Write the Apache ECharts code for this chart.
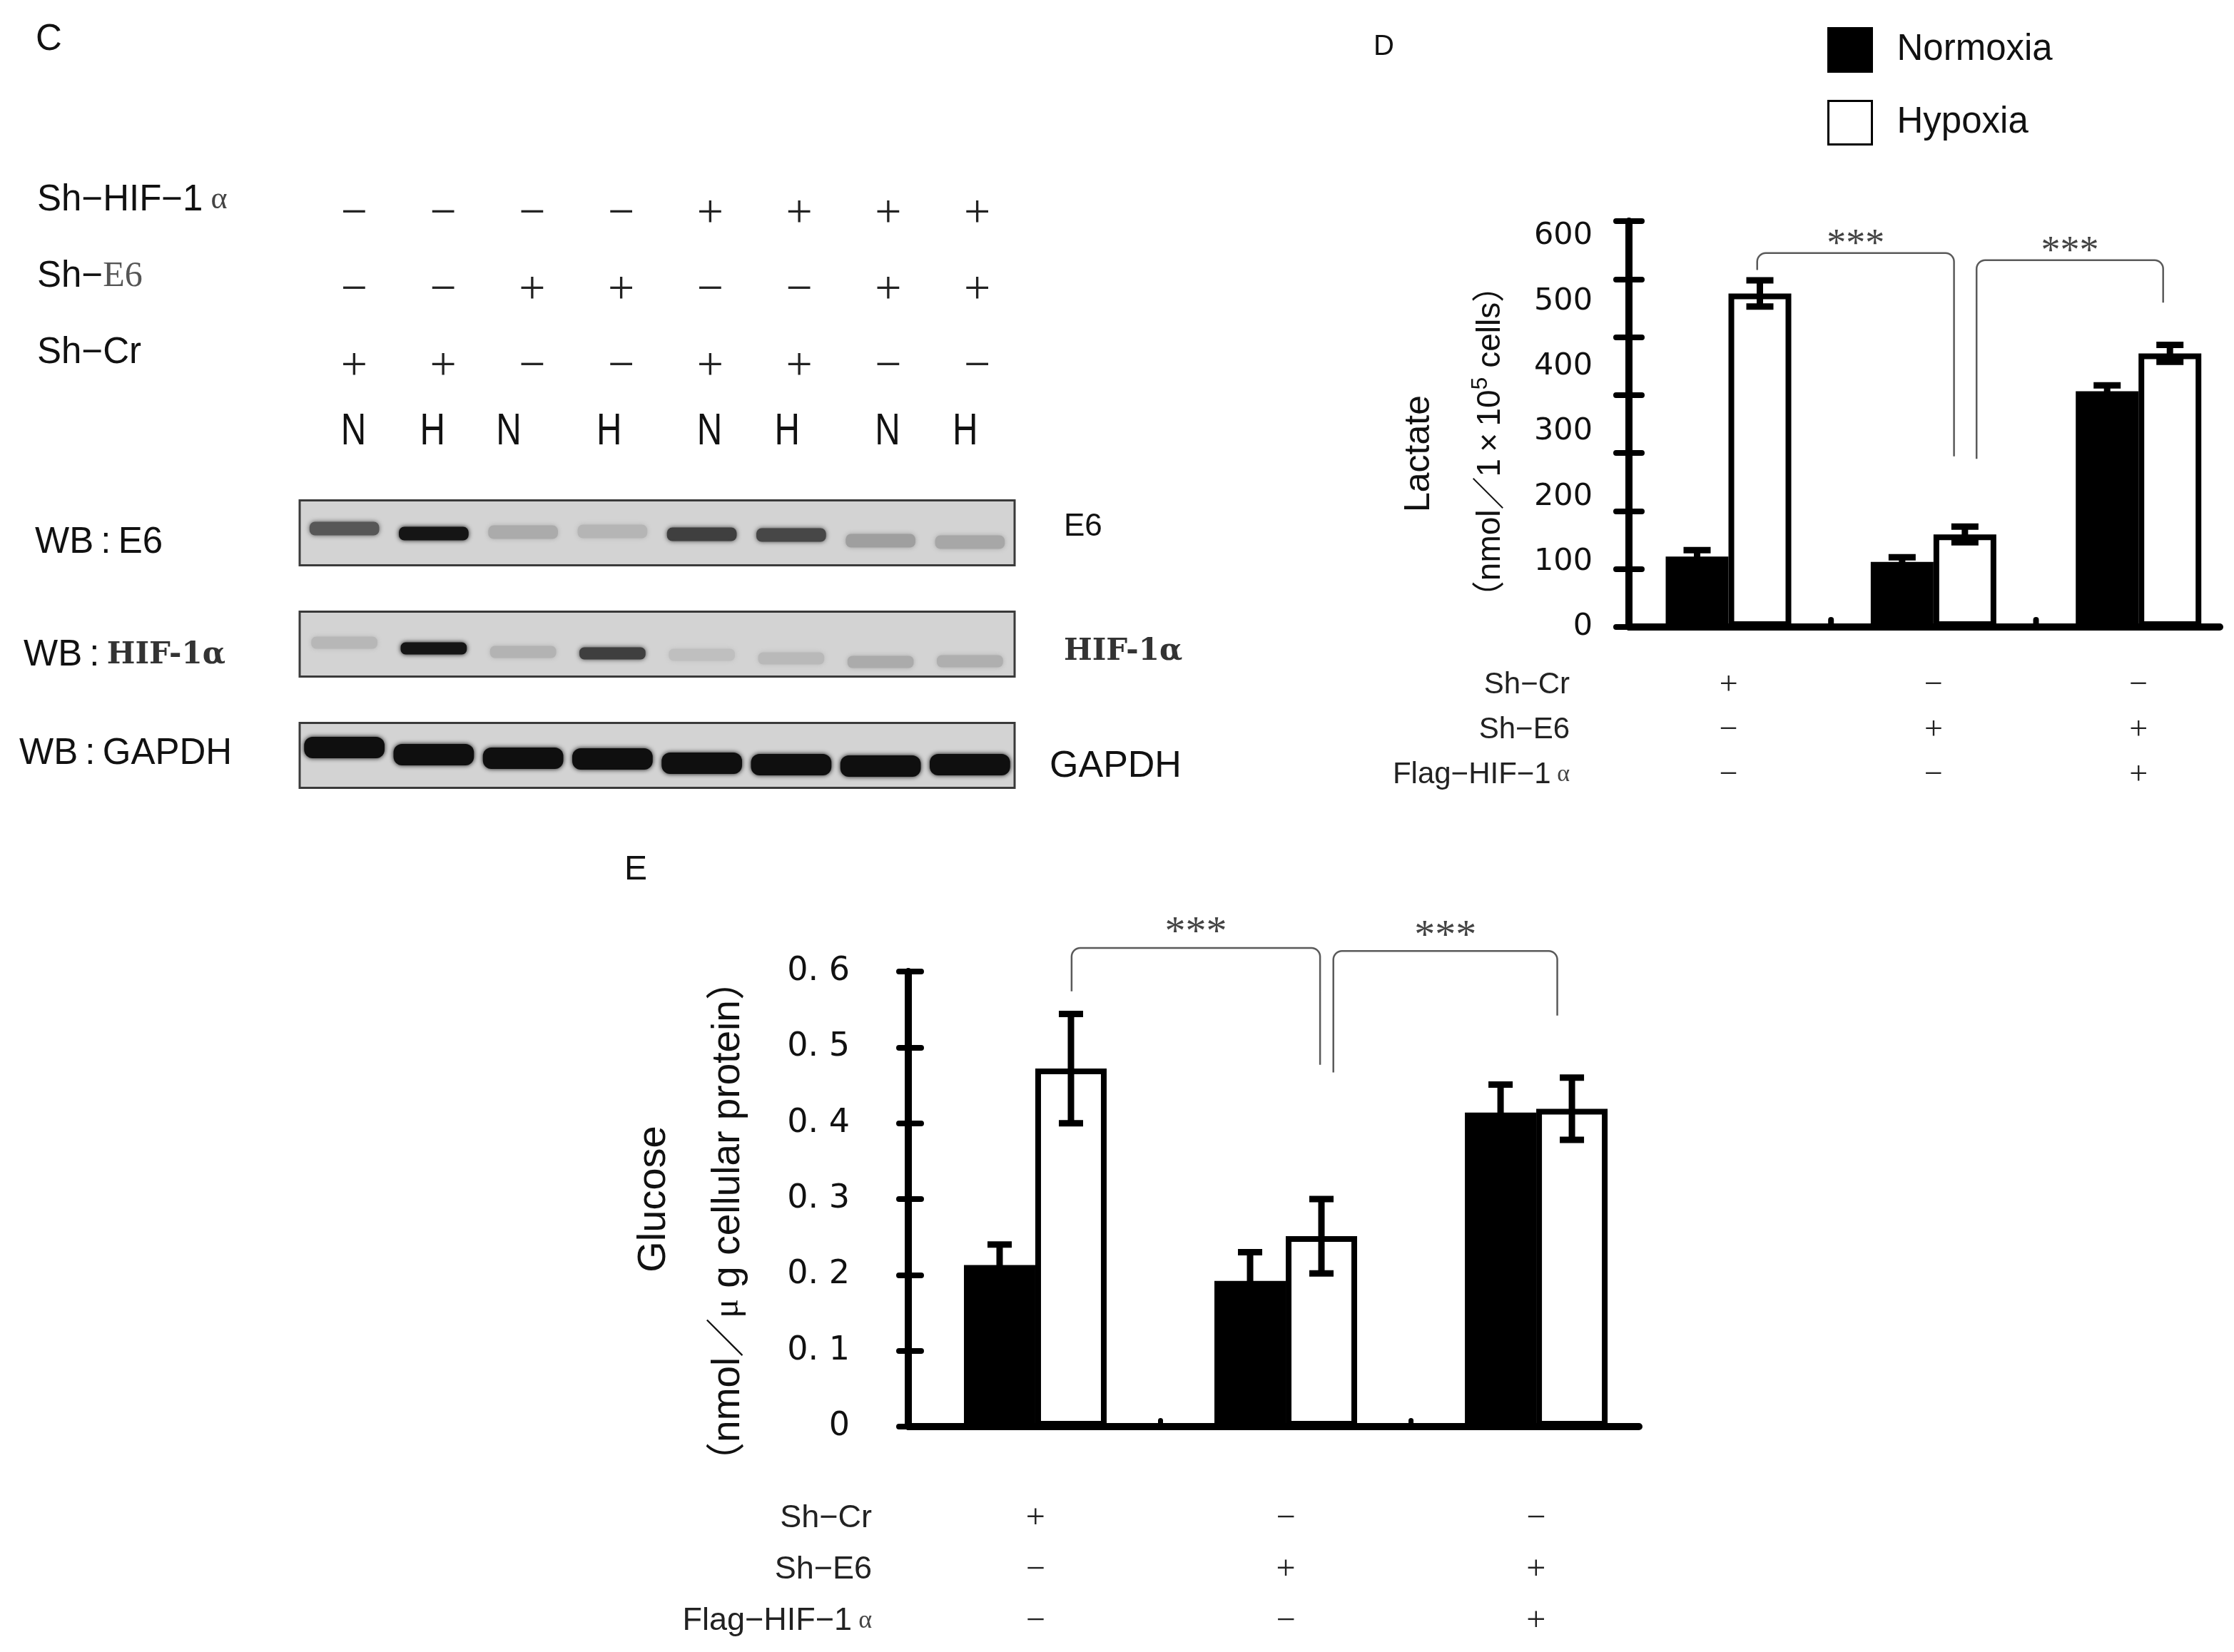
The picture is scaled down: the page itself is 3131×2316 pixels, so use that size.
<!DOCTYPE html>
<html>
<head>
<meta charset="utf-8">
<title>E6 / HIF-1α – blot, lactate and glucose</title>
<script src="https://cdn.jsdelivr.net/npm/echarts@6.0.0/dist/echarts.min.js"></script>
<style>
  html, body { margin: 0; background: #fff; }
  #chart { width: 3131px; height: 2316px; }
</style>
</head>
<body>
<div id="chart"></div>
<script>
// ---------- panel C : western blot ----------
const lanes = ['1', '2', '3', '4', '5', '6', '7', '8']
const laneOxygen = ['N', 'H', 'N', 'H', 'N', 'H', 'N', 'H']
const knockdownRows = ['Sh-HIF-1α', 'Sh-E6', 'Sh-Cr']
const laneShHif = ['−', '−', '−', '−', '+', '+', '+', '+']
const laneShE6 = ['−', '−', '+', '+', '−', '−', '+', '+']
const laneShCr = ['+', '+', '−', '−', '+', '+', '−', '−']
const blots = ['E6', 'HIF-1α', 'GAPDH']
// band darkness (0 = nothing, 1 = saturated)
const bandE6 = [0.62, 0.95, 0.2, 0.15, 0.74, 0.7, 0.26, 0.22]
const bandHif = [0.14, 0.95, 0.16, 0.74, 0.1, 0.13, 0.2, 0.18]
const bandGapdh = [0.98, 0.98, 0.98, 0.98, 0.98, 0.98, 0.98, 0.98]

// ---------- panels D and E ----------
const groups = ['Sh-Cr', 'Sh-E6', 'Sh-E6 + Flag-HIF-1α']
const conditionRows = ['Sh-Cr', 'Sh-E6', 'Flag-HIF-1α']
const condShCr = ['+', '−', '−']
const condShE6 = ['−', '+', '+']
const condFlagHif = ['−', '−', '+']

const lactateNormoxia = [108, 100, 362]
const lactateNormoxiaErr = [10, 7, 9]
const lactateHypoxia = [512, 142, 420]
const lactateHypoxiaErr = [20, 12, 13]
const lactateTicks = ['0', '100', '200', '300', '400', '500', '600']
// significance brackets, x in group units, y in data units
const lactateBrackets = [
  { from: 0.14, to: 1.10, left: 548, top: 574, right: 262 },
  { from: 1.21, to: 2.12, left: 258, top: 563, right: 498 },
]

const glucoseNormoxia = [0.213, 0.192, 0.414]
const glucoseNormoxiaErr = [0.027, 0.038, 0.037]
const glucoseHypoxia = [0.472, 0.251, 0.419]
const glucoseHypoxiaErr = [0.072, 0.049, 0.041]
const glucoseTicks = ['0', '0. 1', '0. 2', '0. 3', '0. 4', '0. 5', '0. 6']
const glucoseBrackets = [
  { from: 0.145, to: 1.137, left: 0.574, top: 0.631, right: 0.477 },
  { from: 1.19, to: 2.084, left: 0.467, top: 0.627, right: 0.542 },
]
const significance = '***'

// ---------- layout / style ----------
const SANS = '"Liberation Sans", Arial, "Noto Sans CJK SC", sans-serif'
const SERIF = '"Liberation Serif", "Times New Roman", serif'
const DEJAVU = '"DejaVu Sans", sans-serif'
const BOLDSERIF = '"DejaVu Serif", serif'
const INK = '#111'
const hidden = { show: false }

// N/H letters are not set exactly on the lanes in the figure
const nhNudge = [-1, -15, -33, -17, -1, -17, -1, -17]
// band geometry per blot (width as share of the lane, height px) and drift of each band
const bandShape = [{ w: 0.78, h: 19 }, { w: 0.74, h: 17 }, { w: 0.9, h: 30 }]
const bandDrift = [
  [-6, 1, -1, -2, 2, 3, 11, 13],
  [-2, 6, 11, 13, 15, 20, 25, 24],
  [-11, -1, 4, 5, 11, 13, 15, 13],
]
const blotLabelPos = { leftX: [-371, -387, -393], leftDy: [14, 16, -2], rightX: [69, 69, 49], rightDy: [-8, 11, 16] }

function catAxis(gridIndex, data, extra) {
  return Object.assign({
    type: 'category', gridIndex, data,
    axisLine: hidden, axisTick: hidden, axisLabel: hidden, splitLine: hidden,
  }, extra || {})
}

// group axis of a bar panel: groups sit at 0, 1, 2 on a value scale
function groupAxis(gridIndex, min, max) {
  return {
    type: 'value', gridIndex, min, max,
    axisLine: { show: true, onZero: false, lineStyle: { color: '#000', width: 10 } },
    axisTick: hidden, axisLabel: hidden, splitLine: hidden,
  }
}

function signItems(rows) {
  const items = []
  rows.forEach((row, r) => row.forEach((s, c) => items.push({ value: [c, r], sign: s })))
  return items
}

function signSeries(xi, yi, rows, fontSize) {
  const items = signItems(rows)
  return {
    type: 'custom', xAxisIndex: xi, yAxisIndex: yi, silent: true,
    data: items.map(d => d.value),
    renderItem(params, api) {
      const p = api.coord([api.value(0), api.value(1)])
      return {
        type: 'text', x: p[0], y: p[1],
        style: { text: items[params.dataIndex].sign, fill: '#222', fontSize, fontFamily: SERIF, align: 'center', verticalAlign: 'middle' },
      }
    },
  }
}

function barPair(xi, yi, normoxia, hypoxia, width) {
  return [
    { name: 'Normoxia', type: 'bar', xAxisIndex: xi, yAxisIndex: yi, data: normoxia.map((v, i) => [i, v]),
      barWidth: width, barGap: '0%', silent: true, itemStyle: { color: '#000' } },
    { name: 'Hypoxia', type: 'bar', xAxisIndex: xi, yAxisIndex: yi, data: hypoxia.map((v, i) => [i, v]),
      barWidth: width, barGap: '0%', silent: true, itemStyle: { color: '#fff', borderColor: '#000', borderWidth: 8 } },
  ]
}

// the little marks standing on the x axis between two groups
function dividerSeries(xi, yi, height, width) {
  return {
    type: 'custom', xAxisIndex: xi, yAxisIndex: yi, silent: true,
    data: groups.slice(1).map((_, i) => [i + 0.5, 0]),
    renderItem(params, api) {
      const p = api.coord([api.value(0), 0])
      return { type: 'rect', shape: { x: p[0] - width / 2, y: p[1] - height, width, height, r: width / 2 }, style: { fill: '#000' } }
    },
  }
}

function errorSeries(xi, yi, normoxia, nErr, hypoxia, hErr, barW, capHalf) {
  const data = []
  normoxia.forEach((v, i) => data.push([i, v, nErr[i], -1]))
  hypoxia.forEach((v, i) => data.push([i, v, hErr[i], 1]))
  return {
    type: 'custom', xAxisIndex: xi, yAxisIndex: yi, silent: true, z: 3, data,
    renderItem(params, api) {
      const g = api.value(0), v = api.value(1), e = api.value(2)
      const x = api.coord([g, v])[0] + api.value(3) * barW / 2
      const hi = api.coord([g, v + e])[1]
      const lo = api.coord([g, v - e])[1]
      const st = { stroke: '#000', lineWidth: 9 }
      return {
        type: 'group', children: [
          { type: 'line', shape: { x1: x, y1: hi, x2: x, y2: lo }, style: st },
          { type: 'line', shape: { x1: x - capHalf, y1: hi, x2: x + capHalf, y2: hi }, style: st },
          { type: 'line', shape: { x1: x - capHalf, y1: lo, x2: x + capHalf, y2: lo }, style: st },
        ],
      }
    },
  }
}

function corner(cx, cy, r, a0, a1) {
  const pts = []
  for (let k = 0; k <= 8; k++) {
    const a = a0 + (a1 - a0) * k / 8
    pts.push([cx + r * Math.cos(a), cy + r * Math.sin(a)])
  }
  return pts
}

function bracketSeries(xi, yi, brackets, starLift, starSize) {
  return {
    type: 'custom', xAxisIndex: xi, yAxisIndex: yi, silent: true, z: 3,
    data: brackets.map(b => [b.from, b.top, b.to, b.left, b.right]),
    renderItem(params, api) {
      const xl = api.coord([api.value(0), 0])[0]
      const xr = api.coord([api.value(2), 0])[0]
      const yt = api.coord([0, api.value(1)])[1]
      const yl = api.coord([0, api.value(3)])[1]
      const yr = api.coord([0, api.value(4)])[1]
      const r = 12
      const pts = [[xl, yl]]
        .concat(corner(xl + r, yt + r, r, Math.PI, 1.5 * Math.PI))
        .concat(corner(xr - r, yt + r, r, 1.5 * Math.PI, 2 * Math.PI))
        .concat([[xr, yr]])
      return {
        type: 'group', children: [
          { type: 'polyline', shape: { points: pts }, style: { stroke: '#5a5a5a', lineWidth: 2.5, fill: null } },
          { type: 'text', x: (xl + xr) / 2, y: yt - starLift,
            style: { text: significance, fill: '#444', fontSize: starSize, fontFamily: SERIF, align: 'center', verticalAlign: 'middle' } },
        ],
      }
    },
  }
}

function blotName(name, style) {
  return name === 'HIF-1α' ? '{b|HIF-1α}' : '{' + style + '|' + name + '}'
}

const blotRich = {
  a: { fontSize: 51, fontFamily: SANS, fill: INK },
  b: { fontSize: 42, fontFamily: BOLDSERIF, fontWeight: 'bold', fill: '#333' },
  c: { fontSize: 44, fontFamily: SANS, fill: INK },
  d: { fontSize: 52, fontFamily: SANS, fill: INK },
}

const bandRows = [bandE6, bandHif, bandGapdh]
const bandData = []
bandRows.forEach((row, r) => row.forEach((v, l) => bandData.push([l, r, v])))

const yLine = { show: true, onZero: false, lineStyle: { color: '#000', width: 10 } }
const yNoLine = { show: false, onZero: false }

const chart = echarts.init(document.getElementById('chart'))

const option = {
  backgroundColor: '#fff',
  animation: false,
  title: [
    { text: 'C', left: 50, top: 30, padding: 0, textStyle: { fontSize: 51, fontWeight: 'normal', fontFamily: SANS, color: INK } },
    { text: 'D', left: 1925, top: 46, padding: 0, textStyle: { fontSize: 40, fontWeight: 'normal', fontFamily: SANS, color: INK } },
    { text: 'E', left: 875, top: 1196, padding: 0, textStyle: { fontSize: 48, fontWeight: 'normal', fontFamily: SANS, color: INK } },
  ],
  legend: {
    data: ['Normoxia', 'Hypoxia'], orient: 'vertical', left: 2561, top: 38, padding: 0,
    itemWidth: 61, itemHeight: 61, itemGap: 38, icon: 'rect', selectedMode: false,
    itemStyle: { borderWidth: 3, borderColor: '#000' },
    textStyle: { fontSize: 51, fontFamily: SANS, color: INK, padding: [0, 0, 0, 30] },
  },
  grid: [
    { left: 434, width: 998, top: 247, height: 321, outerBoundsMode: 'none' },   // C signs
    { left: 434, width: 998, top: 576, height: 60, outerBoundsMode: 'none' },    // C N/H
    { left: 420, width: 1002, top: 669, height: 468, outerBoundsMode: 'none' },  // C blots
    { left: 2283, width: 828, top: 310, height: 569, outerBoundsMode: 'none' },  // D bars
    { left: 2279, width: 862, top: 929, height: 189, outerBoundsMode: 'none' },  // D table
    { left: 1273, width: 1024, top: 1362, height: 638, outerBoundsMode: 'none' }, // E bars
    { left: 1276, width: 1052, top: 2093, height: 216, outerBoundsMode: 'none' }, // E table
  ],
  xAxis: [
    catAxis(0, lanes),
    catAxis(1, lanes),
    catAxis(2, lanes),
    groupAxis(3, -0.4855, 2.396),
    catAxis(4, groups),
    groupAxis(5, -0.507, 2.41),
    catAxis(6, groups),
  ],
  yAxis: [
    catAxis(0, knockdownRows, {
      inverse: true, position: 'left',
      axisLabel: {
        show: true, interval: 0, align: 'left', margin: 382, padding: [0, 0, 40, 0],
        fontSize: 51, fontFamily: SANS, color: INK,
        formatter: v => v.replace(/-/g, '−').replace('α', '{g| α}').replace('E6', '{s|E6}'),
        rich: {
          g: { fontSize: 44, fontFamily: SERIF, color: '#444' },
          s: { fontSize: 50, fontFamily: SERIF, color: '#555' },
        },
      },
    }),
    catAxis(1, ['oxygen'], { position: 'left' }),
    catAxis(2, blots, { inverse: true, position: 'left' }),
    // D: axis line + outer ticks (tick spacing of the figure)
    {
      type: 'value', gridIndex: 3, position: 'left', min: 0, max: 700, interval: 100,
      axisLine: yLine,
      axisTick: { show: true, length: 18, lineStyle: { color: '#000', width: 8, cap: 'round' } },
      axisLabel: hidden, splitLine: hidden,
      name: 'Lactate', nameLocation: 'middle', nameRotate: 90, nameGap: 269, nameMoveOverlap: false,
      nameTextStyle: { fontSize: 50, fontFamily: SANS, color: INK, padding: [0, 83, 0, 0] },
    },
    {
      type: 'value', gridIndex: 3, position: 'left', min: 0, max: 700, interval: 100,
      axisLine: yNoLine, axisLabel: hidden, splitLine: hidden,
      axisTick: { show: true, inside: true, length: 18, lineStyle: { color: '#000', width: 8, cap: 'round' } },
      name: '{a|（nmol／1\u2009×\u200910}{s|5}{a| cells）}', nameLocation: 'middle', nameRotate: 90, nameGap: 164, nameMoveOverlap: false,
      nameTextStyle: {
        padding: [0, 49, 0, 0],
        rich: {
          a: { fontSize: 46, fontFamily: SANS, color: INK, lineHeight: 60 },
          s: { fontSize: 32, fontFamily: SANS, color: INK, lineHeight: 32, verticalAlign: 'top' },
        },
      },
    },
    // D: the numbers as printed
    {
      type: 'value', gridIndex: 3, position: 'left', min: 0, max: 623, interval: 100,
      axisLine: yNoLine, axisTick: hidden, splitLine: hidden,
      axisLabel: {
        show: true, showMaxLabel: false, margin: 51, fontSize: 43, fontFamily: DEJAVU, color: INK,
        formatter: v => (v % 100 === 0 ? lactateTicks[v / 100] : ''),
      },
    },
    catAxis(4, conditionRows, {
      inverse: true, position: 'left',
      axisLabel: {
        show: true, interval: 0, margin: 79, fontSize: 42, fontFamily: SANS, color: '#222',
        formatter: v => v.replace(/-/g, '−').replace('α', '{g| α}'),
        rich: { g: { fontSize: 34, fontFamily: SERIF, color: '#444' } },
      },
    }),
    // E
    {
      type: 'value', gridIndex: 5, position: 'left', min: 0, max: 0.6, interval: 0.1,
      axisLine: yLine,
      axisTick: { show: true, length: 13, lineStyle: { color: '#000', width: 8, cap: 'round' } },
      splitLine: hidden,
      axisLabel: {
        show: true, margin: 82, padding: [20, 0, 0, 0], fontSize: 46, fontFamily: DEJAVU, color: INK,
        formatter: v => glucoseTicks[Math.round(v * 10)],
      },
      name: 'Glucose', nameLocation: 'middle', nameRotate: 90, nameGap: 328, nameMoveOverlap: false,
      nameTextStyle: { fontSize: 56, fontFamily: SANS, color: INK },
    },
    {
      type: 'value', gridIndex: 5, position: 'left', min: 0, max: 0.6, interval: 0.1,
      axisLine: yNoLine, axisLabel: hidden, splitLine: hidden,
      axisTick: { show: true, inside: true, length: 18, lineStyle: { color: '#000', width: 8, cap: 'round' } },
      name: '{a|（nmol／}{m|μ}{a| g cellular protein）}', nameLocation: 'middle', nameRotate: 90, nameGap: 219, nameMoveOverlap: false,
      nameTextStyle: {
        padding: [0, 62, 0, 0],
        rich: {
          a: { fontSize: 55, fontFamily: SANS, color: INK, lineHeight: 66 },
          m: { fontSize: 50, fontFamily: SERIF, color: INK, lineHeight: 66 },
        },
      },
    },
    catAxis(6, conditionRows, {
      inverse: true, position: 'left',
      axisLabel: {
        show: true, interval: 0, margin: 54, fontSize: 45, fontFamily: SANS, color: '#222',
        formatter: v => v.replace(/-/g, '−').replace('α', '{g| α}'),
        rich: { g: { fontSize: 36, fontFamily: SERIF, color: '#444' } },
      },
    }),
  ],
  series: [
    // C: treatment table
    signSeries(0, 0, [laneShHif, laneShE6, laneShCr], 66),
    {
      type: 'custom', xAxisIndex: 1, yAxisIndex: 1, silent: true,
      data: lanes.map((_, i) => [i, 0]),
      renderItem(params, api) {
        const p = api.coord([api.value(0), 0])
        return {
          type: 'text', x: p[0] + nhNudge[params.dataIndex], y: p[1], scaleX: 0.78,
          style: { text: laneOxygen[params.dataIndex], fill: INK, fontSize: 63, fontFamily: SANS, align: 'center', verticalAlign: 'middle' },
        }
      },
    },
    // C: membranes with their labels
    {
      type: 'custom', xAxisIndex: 2, yAxisIndex: 2, silent: true,
      data: blots.map((_, r) => [0, r]),
      renderItem(params, api) {
        const r = api.value(1)
        const c = api.coord([0, r])
        const lane = api.size([1, 0])[0]
        const left = c[0] - lane / 2
        const w = lane * lanes.length
        const h = api.size([0, 1])[1] * 0.583
        const name = blots[r]
        return {
          type: 'group', children: [
            { type: 'rect', shape: { x: left, y: c[1] - h / 2, width: w, height: h }, style: { fill: '#d3d3d3', stroke: '#3a3a3a', lineWidth: 3 } },
            { type: 'text', x: left + blotLabelPos.leftX[r], y: c[1] + blotLabelPos.leftDy[r],
              style: { text: '{a|WB\u2009:\u2009}' + blotName(name, 'a'), rich: blotRich, align: 'left', verticalAlign: 'middle' } },
            { type: 'text', x: left + w + blotLabelPos.rightX[r], y: c[1] + blotLabelPos.rightDy[r],
              style: { text: blotName(name, name === 'GAPDH' ? 'd' : 'c'), rich: blotRich, align: 'left', verticalAlign: 'middle' } },
          ],
        }
      },
    },
    // C: bands
    {
      type: 'custom', xAxisIndex: 2, yAxisIndex: 2, silent: true, data: bandData,
      renderItem(params, api) {
        const l = api.value(0), r = api.value(1), dark = api.value(2)
        const c = api.coord([l, r])
        const lane = api.size([1, 0])[0]
        const w = lane * bandShape[r].w, h = bandShape[r].h
        const y = c[1] + bandDrift[r][l]
        const g = Math.round(211 - 200 * dark)
        const col = 'rgb(' + g + ',' + g + ',' + g + ')'
        return {
          type: 'rect', shape: { x: c[0] - w / 2, y: y - h / 2, width: w, height: h, r: h / 2.5 },
          style: { fill: col, shadowBlur: 6, shadowColor: col },
        }
      },
    },
    // D
    ...barPair(3, 5, lactateNormoxia, lactateHypoxia, 88),
    dividerSeries(3, 5, 14, 8),
    errorSeries(3, 5, lactateNormoxia, lactateNormoxiaErr, lactateHypoxia, lactateHypoxiaErr, 88, 19),
    bracketSeries(3, 5, lactateBrackets, 11, 54),
    signSeries(4, 6, [condShCr, condShE6, condFlagHif], 46),
    // E
    ...barPair(5, 7, glucoseNormoxia, glucoseHypoxia, 100),
    dividerSeries(5, 7, 12, 7),
    errorSeries(5, 7, glucoseNormoxia, glucoseNormoxiaErr, glucoseHypoxia, glucoseHypoxiaErr, 100, 17),
    bracketSeries(5, 7, glucoseBrackets, 20, 58),
    signSeries(6, 9, [condShCr, condShE6, condFlagHif], 48),
  ],
}

chart.setOption(option)
</script>
</body>
</html>
